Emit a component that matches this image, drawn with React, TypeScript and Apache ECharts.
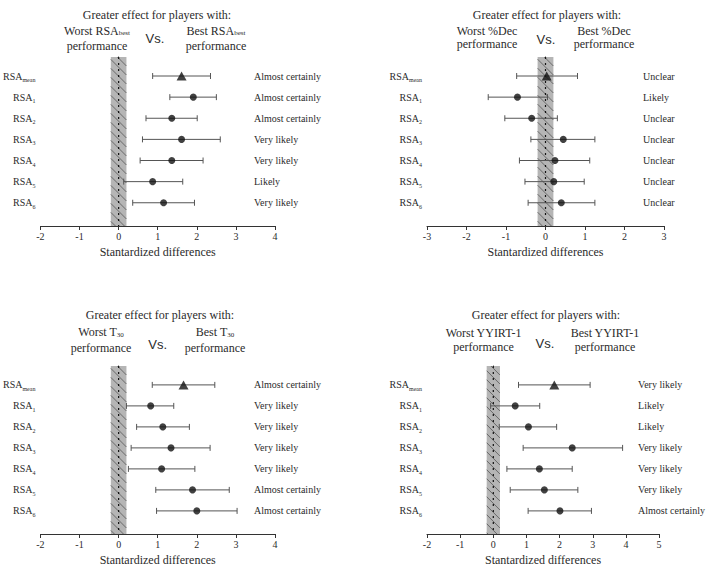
import React, { useEffect, useRef } from 'react';
import * as echarts from 'echarts';

// ---------- data ----------
const rowKeys = ['mean', '1', '2', '3', '4', '5', '6'];

const xMin = [-2, -3, -2, -2];
const xMax = [4, 3, 4, 5];

const p1Point = [1.61, 1.91, 1.36, 1.61, 1.36, 0.87, 1.15];
const p1Low = [0.87, 1.31, 0.70, 0.61, 0.55, 0.13, 0.36];
const p1High = [2.35, 2.50, 2.01, 2.60, 2.16, 1.64, 1.94];
const p1Labels = ['Almost certainly', 'Almost certainly', 'Almost certainly', 'Very likely', 'Very likely', 'Likely', 'Very likely'];

const p2Point = [0.03, -0.71, -0.35, 0.45, 0.24, 0.21, 0.40];
const p2Low = [-0.73, -1.45, -1.03, -0.37, -0.66, -0.52, -0.44];
const p2High = [0.81, 0.05, 0.30, 1.25, 1.12, 0.98, 1.25];
const p2Labels = ['Unclear', 'Likely', 'Unclear', 'Unclear', 'Unclear', 'Unclear', 'Unclear'];

const p3Point = [1.66, 0.82, 1.13, 1.34, 1.10, 1.89, 2.00];
const p3Low = [0.86, 0.20, 0.46, 0.32, 0.25, 0.95, 0.97];
const p3High = [2.46, 1.41, 1.81, 2.34, 1.95, 2.83, 3.03];
const p3Labels = ['Almost certainly', 'Very likely', 'Very likely', 'Very likely', 'Very likely', 'Almost certainly', 'Almost certainly'];

const p4Point = [1.84, 0.66, 1.06, 2.38, 1.39, 1.54, 2.01];
const p4Low = [0.76, -0.08, 0.18, 0.90, 0.41, 0.51, 1.05];
const p4High = [2.92, 1.40, 1.91, 3.90, 2.38, 2.55, 2.96];
const p4Labels = ['Very likely', 'Likely', 'Likely', 'Very likely', 'Very likely', 'Very likely', 'Almost certainly'];

const bandLimits = [-0.2, 0.2];

const panelTitle = 'Greater effect for players with:';
const worstMain = ['Worst RSA', 'Worst %Dec', 'Worst T', 'Worst YYIRT-1'];
const worstSub = ['best', '', '30', ''];
const bestMain = ['Best RSA', 'Best %Dec', 'Best T', 'Best YYIRT-1'];
const bestSub = ['best', '', '30', ''];
const perfWord = 'performance';
const vsWord = 'Vs.';
const xAxisTitle = 'Stantardized differences';

// ---------- layout ----------
const SERIF = 'Liberation Serif, Times New Roman, serif';
const SANS = 'Liberation Sans, Arial, sans-serif';
const TXT = '#2b2b2b';
const Y_MIN = 0.1;
const Y_MAX = 8.1;

const grids = [
  { left: 38, top: 57, width: 237, height: 169 },
  { left: 427, top: 57, width: 237, height: 169 },
  { left: 38, top: 366, width: 237, height: 169 },
  { left: 427, top: 366, width: 237, height: 169 },
];
const headPos = [
  { title: [157, 15], worst: [97, 30.5, 46], vs: [155, 38.5], best: [216, 30.5, 46] },
  { title: [547, 15], worst: [487, 31, 44.3], vs: [546, 39], best: [604, 31, 44.3] },
  { title: [160, 315], worst: [101, 332, 348], vs: [157.7, 344.5], best: [215, 332, 348] },
  { title: [546, 315], worst: [483.5, 333, 347], vs: [545, 343], best: [605, 333, 347] },
];

const panels = [
  { point: p1Point, low: p1Low, high: p1High, labels: p1Labels },
  { point: p2Point, low: p2Low, high: p2High, labels: p2Labels },
  { point: p3Point, low: p3Low, high: p3High, labels: p3Labels },
  { point: p4Point, low: p4Low, high: p4High, labels: p4Labels },
];

const rowIdx = rowKeys.map((_, i) => i + 1);

function buildOption() {
  const grid: any[] = [];
  const xAxis: any[] = [];
  const yAxis: any[] = [];
  const series: any[] = [];
  const graphic: any[] = [];

  panels.forEach((p, i) => {
    grid.push({ ...grids[i], containLabel: false });
    xAxis.push({
      type: 'value',
      gridIndex: i,
      min: xMin[i],
      max: xMax[i],
      interval: 1,
      splitLine: { show: false },
      axisLine: { lineStyle: { color: '#333', width: 1 } },
      axisTick: { length: 4, lineStyle: { color: '#333' } },
      axisLabel: { fontFamily: SERIF, fontSize: 10, color: TXT, margin: 5 },
      name: xAxisTitle,
      nameLocation: 'middle',
      nameGap: 20,
      nameTextStyle: { fontFamily: SERIF, fontSize: 12, color: TXT },
    });
    yAxis.push({
      type: 'value',
      gridIndex: i,
      inverse: true,
      min: Y_MIN,
      max: Y_MAX,
      splitLine: { show: false },
      axisLine: { show: true, lineStyle: { color: '#333', width: 1 } },
      axisTick: { show: true, length: 4, customValues: rowIdx, lineStyle: { color: '#333' } },
      axisLabel: {
        customValues: rowIdx,
        margin: 5,
        formatter: (v: number) => `{a|RSA}{s|${rowKeys[Math.round(v) - 1] ?? ''}}`,
        rich: {
          a: { fontFamily: SERIF, fontSize: 10, color: TXT, lineHeight: 14 },
          s: { fontFamily: SERIF, fontSize: 6, color: TXT, verticalAlign: 'bottom' },
        },
      },
    });
    yAxis.push({
      type: 'value',
      gridIndex: i,
      position: 'right',
      offset: -21,
      inverse: true,
      min: Y_MIN,
      max: Y_MAX,
      splitLine: { show: false },
      axisLine: { show: false },
      axisTick: { show: false },
      axisLabel: {
        customValues: rowIdx,
        margin: 0,
        align: 'left',
        fontFamily: SERIF,
        fontSize: 10,
        color: TXT,
        formatter: (v: number) => p.labels[Math.round(v) - 1] ?? '',
      },
    });

    // hatched band with dotted zero line
    series.push({
      type: 'custom',
      xAxisIndex: i,
      yAxisIndex: 2 * i,
      silent: true,
      z: 1,
      data: [[bandLimits[0], bandLimits[1]]],
      renderItem: (params: any, api: any) => {
        const a = api.coord([api.value(0), Y_MIN]);
        const b = api.coord([api.value(1), Y_MAX]);
        const z = api.coord([0, Y_MIN]);
        const x0 = Math.min(a[0], b[0]);
        const x1 = Math.max(a[0], b[0]);
        const y0 = Math.min(a[1], b[1]);
        const y1 = Math.max(a[1], b[1]);
        const w = x1 - x0;
        const h = y1 - y0;
        const children: any[] = [
          { type: 'rect', shape: { x: x0, y: y0, width: w, height: h }, style: { fill: '#b5b5b5', stroke: null } },
        ];
        const step = 9;
        for (let t = -w; t < h; t += step) {
          let sx = x0, sy = y0 + t, ex = x1, ey = y0 + t + w;
          if (sy < y0) { sx = x0 + (y0 - sy); sy = y0; }
          if (ey > y1) { ex = x1 - (ey - y1); ey = y1; }
          if (ex <= sx) continue;
          children.push({ type: 'line', shape: { x1: sx, y1: sy, x2: ex, y2: ey }, style: { stroke: '#555', lineWidth: 0.8 } });
        }
        children.push({
          type: 'line',
          shape: { x1: z[0], y1: y0, x2: z[0], y2: y1 },
          style: { stroke: '#111', lineWidth: 1.2, lineDash: [2, 4] },
        });
        return { type: 'group', children };
      },
    });

    // error bars
    series.push({
      type: 'custom',
      xAxisIndex: i,
      yAxisIndex: 2 * i,
      silent: true,
      z: 2,
      data: rowIdx.map((r, k) => [r, p.low[k], p.high[k]]),
      renderItem: (params: any, api: any) => {
        const y = api.value(0);
        const a = api.coord([api.value(1), y]);
        const b = api.coord([api.value(2), y]);
        const st = { stroke: '#555', lineWidth: 1 };
        return {
          type: 'group',
          children: [
            { type: 'line', shape: { x1: a[0], y1: a[1], x2: b[0], y2: b[1] }, style: st },
            { type: 'line', shape: { x1: a[0], y1: a[1] - 3, x2: a[0], y2: a[1] + 3 }, style: st },
            { type: 'line', shape: { x1: b[0], y1: b[1] - 3, x2: b[0], y2: b[1] + 3 }, style: st },
          ],
        };
      },
    });

    series.push({
      type: 'scatter',
      xAxisIndex: i,
      yAxisIndex: 2 * i,
      z: 3,
      symbol: 'triangle',
      symbolSize: [10, 9],
      itemStyle: { color: '#111' },
      data: [[p.point[0], rowIdx[0]]],
    });
    series.push({
      type: 'scatter',
      xAxisIndex: i,
      yAxisIndex: 2 * i,
      z: 3,
      symbol: 'circle',
      symbolSize: 7,
      itemStyle: { color: '#111' },
      data: p.point.slice(1).map((v, k) => [v, rowIdx[k + 1]]),
    });

    const hp = headPos[i];
    const richHead = {
      m: { fontFamily: SERIF, fontSize: 12, fill: TXT, lineHeight: 12 },
      s: { fontFamily: SERIF, fontSize: 7, fill: TXT, verticalAlign: 'bottom' },
    };
    const plain = (text: string, x: number, y: number, size: number, fam: string) => ({
      type: 'text', x, y,
      style: { text, fontFamily: fam, fontSize: size, fill: TXT, align: 'center', verticalAlign: 'middle' },
    });
    graphic.push(plain(panelTitle, hp.title[0], hp.title[1], 12, SERIF));
    graphic.push({
      type: 'text', x: hp.worst[0], y: hp.worst[1],
      style: {
        text: `{m|${worstMain[i]}}` + (worstSub[i] ? `{s|${worstSub[i]}}` : ''),
        rich: richHead, align: 'center', verticalAlign: 'middle',
      },
    });
    graphic.push(plain(perfWord, hp.worst[0], hp.worst[2], 12, SERIF));
    graphic.push({
      type: 'text', x: hp.best[0], y: hp.best[1],
      style: {
        text: `{m|${bestMain[i]}}` + (bestSub[i] ? `{s|${bestSub[i]}}` : ''),
        rich: richHead, align: 'center', verticalAlign: 'middle',
      },
    });
    graphic.push(plain(perfWord, hp.best[0], hp.best[2], 12, SERIF));
    graphic.push(plain(vsWord, hp.vs[0], hp.vs[1], 13, SANS));
  });

  return {
    animation: false,
    backgroundColor: '#ffffff',
    grid,
    xAxis,
    yAxis,
    series,
    graphic,
  };
}

export default function App() {
  const ref = useRef<HTMLDivElement>(null);
  useEffect(() => {
    if (!ref.current) return;
    const chart = echarts.init(ref.current, undefined, { renderer: 'svg' });
    chart.setOption(buildOption() as any);
    return () => chart.dispose();
  }, []);
  return (
    <div
      ref={ref}
      style={{ position: 'absolute', left: 0, top: 0, width: 708, height: 567, background: '#fff' }}
    />
  );
}
